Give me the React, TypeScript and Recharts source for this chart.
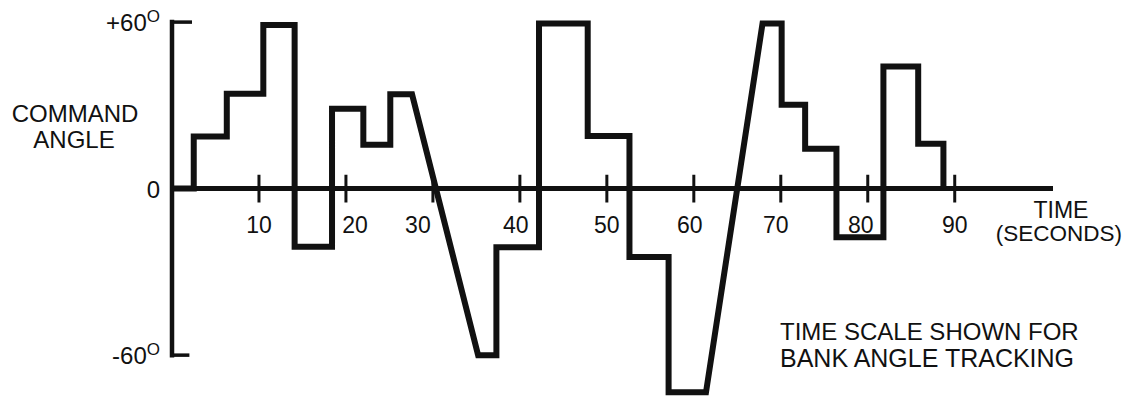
import { LineChart, Line, XAxis, YAxis, ReferenceLine } from "recharts";

// time (s) and command angle (deg), corner by corner
const timeSec = [
  0, 2.5, 2.5, 6.3, 6.3, 10.5, 10.5, 14.1, 14.1, 18.4,
  18.4, 22, 22, 25.1, 25.1, 27.6, 35.2, 37.3, 37.3, 42.2,
  42.2, 47.8, 47.8, 52.6, 52.6, 57.1, 57.1, 61.4, 67.9, 70.1,
  70.1, 72.8, 72.8, 76.4, 76.4, 81.8, 81.8, 85.8, 85.8, 88.7,
  88.7,
];

const commandDeg = [
  0, 0, 18.8, 18.8, 34.2, 34.2, 59, 59, -20.9, -20.9,
  28.8, 28.8, 15.8, 15.8, 34, 34, -60, -60, -21.1, -21.1,
  59.5, 59.5, 19, 19, -24.6, -24.6, -73.4, -73.4, 59.5, 59.5,
  30.2, 30.2, 14.4, 14.4, -17.5, -17.5, 44, 44, 16.2, 16.2,
  0,
];

const timeTicks = [10, 20, 30, 40, 50, 60, 70, 80, 90];
const angleTicks = [60, 0, -60];

const data = timeSec.map((t, i) => ({ t, angle: commandDeg[i] }));

const INK = "#111";
const FONT = '"Liberation Sans", Arial, Helvetica, sans-serif';

// hand lettering sits a little off some of the ticks
const labelNudge: Record<number, number> = { 20: 9, 30: -15, 40: -4, 60: -4, 70: -5, 80: -7 };

const AngleTick = ({ x, y, payload }: any) => {
  const v = payload.value;
  const text = v > 0 ? `+${v}` : `${v}`;
  return (
    <text x={x} y={y} dy={9} textAnchor="end" fontSize={24} fill={INK} fontFamily={FONT}>
      {text}
      {v !== 0 && (
        <tspan fontSize={17} dy={-9}>
          O
        </tspan>
      )}
    </text>
  );
};

export default function App() {
  return (
    <div style={{ position: "absolute", left: 0, top: 0, width: 1127, height: 397, background: "#fff" }}>
      <LineChart
        width={1127}
        height={397}
        data={data}
        margin={{ top: 11, right: 74, bottom: 3, left: 112 }}
      >
        <XAxis dataKey="t" type="number" domain={[0, 101.3]} hide />
        <YAxis
          type="number"
          domain={[-74, 64]}
          ticks={angleTicks}
          width={60}
          axisLine={false}
          tickLine={false}
          tickSize={0}
          tickMargin={12}
          tick={<AngleTick />}
        />

        {/* vertical axis with its end bars */}
        <ReferenceLine
          segment={[{ x: 0, y: 60 }, { x: 0, y: -60 }]}
          stroke={INK}
          strokeWidth={4.5}
          strokeLinecap="square"
        />
        <ReferenceLine segment={[{ x: 0, y: 60 }, { x: 2.3, y: 60 }]} stroke={INK} strokeWidth={3.5} />
        <ReferenceLine segment={[{ x: 0, y: -60 }, { x: 2, y: -60 }]} stroke={INK} strokeWidth={3.5} />

        {/* time axis at zero */}
        <ReferenceLine y={0} stroke={INK} strokeWidth={5} />
        {timeTicks.map((t) => (
          <ReferenceLine
            key={t}
            segment={[{ x: t, y: -5 }, { x: t, y: 5 }]}
            stroke={INK}
            strokeWidth={3}
            label={{
              value: String(t),
              position: "bottom",
              offset: 14,
              fontSize: 23,
              fill: INK,
              fontFamily: FONT,
              dx: labelNudge[t] ?? 0,
            }}
          />
        ))}

        <Line
          type="linear"
          dataKey="angle"
          stroke={INK}
          strokeWidth={6}
          strokeLinejoin="miter"
          dot={false}
          isAnimationActive={false}
        />
      </LineChart>

      <svg
        width={1127}
        height={397}
        style={{ position: "absolute", left: 0, top: 0, pointerEvents: "none" }}
        fontFamily={FONT}
        fill={INK}
      >
        <text x={75} y={122} fontSize={24} textAnchor="middle">COMMAND</text>
        <text x={74} y={148} fontSize={24} textAnchor="middle">ANGLE</text>
        <text x={1061} y={218} fontSize={23} textAnchor="middle">TIME</text>
        <text x={1059} y={241} fontSize={22.5} textAnchor="middle">(SECONDS)</text>
        <text x={780} y={340} fontSize={24}>TIME SCALE SHOWN FOR</text>
        <text x={780} y={367} fontSize={25}>BANK ANGLE TRACKING</text>
      </svg>
    </div>
  );
}
